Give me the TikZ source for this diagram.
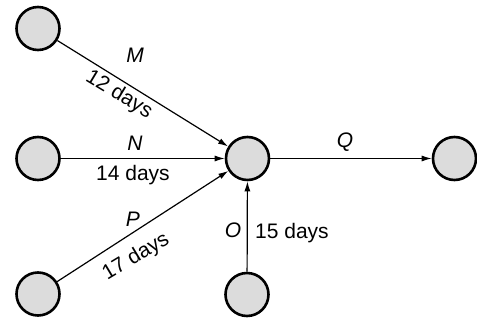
\documentclass[tikz,border=0pt]{standalone}
\usepackage{fontspec}
\setmainfont{Liberation Sans}
\usetikzlibrary{arrows.meta}
\definecolor{nodefill}{RGB}{220,220,220}
\begin{document}
\begin{tikzpicture}[x=1pt,y=-1pt,
  event/.style={circle,draw=black,line width=2.6pt,fill=nodefill,minimum size=43pt,inner sep=0pt},
  act/.style={draw=black,line width=1.2pt,-{Latex[length=10pt,width=6pt]}},
  lbl/.style={font=\fontsize{21}{24}\selectfont,inner sep=0pt},
  ital/.style={font=\fontsize{21}{24}\selectfont\itshape,inner sep=0pt}]
\useasboundingbox (0,0) rectangle (477,320);
\node[event] (a) at (38,28.5) {};
\node[event] (b) at (38,158.5) {};
\node[event] (c) at (38,294) {};
\node[event] (d) at (247.5,158.5) {};
\node[event] (e) at (247,294.5) {};
\node[event] (f) at (454.5,158.5) {};
\draw[act] (a) -- (d);
\draw[act] (b) -- (d);
\draw[act] (c) -- (d);
\draw[act] (e) -- (d);
\draw[act] (d) -- (f);
\node[ital] (lm) at (135,55) {M};
\node[lbl,rotate=-31] (tm) at (119,95) {12 days};
\node[ital] (ln) at (135,143) {N};
\node[lbl] (tn) at (133,175) {14 days};
\node[ital] (lp) at (133,219) {P};
\node[lbl,rotate=31] (tp) at (136,257) {17 days};
\node[ital] (lo) at (233,230) {O};
\node[lbl] (to) at (292,233) {15 days};
\node[ital] (lq) at (345,142) {Q};
\end{tikzpicture}
\end{document}
